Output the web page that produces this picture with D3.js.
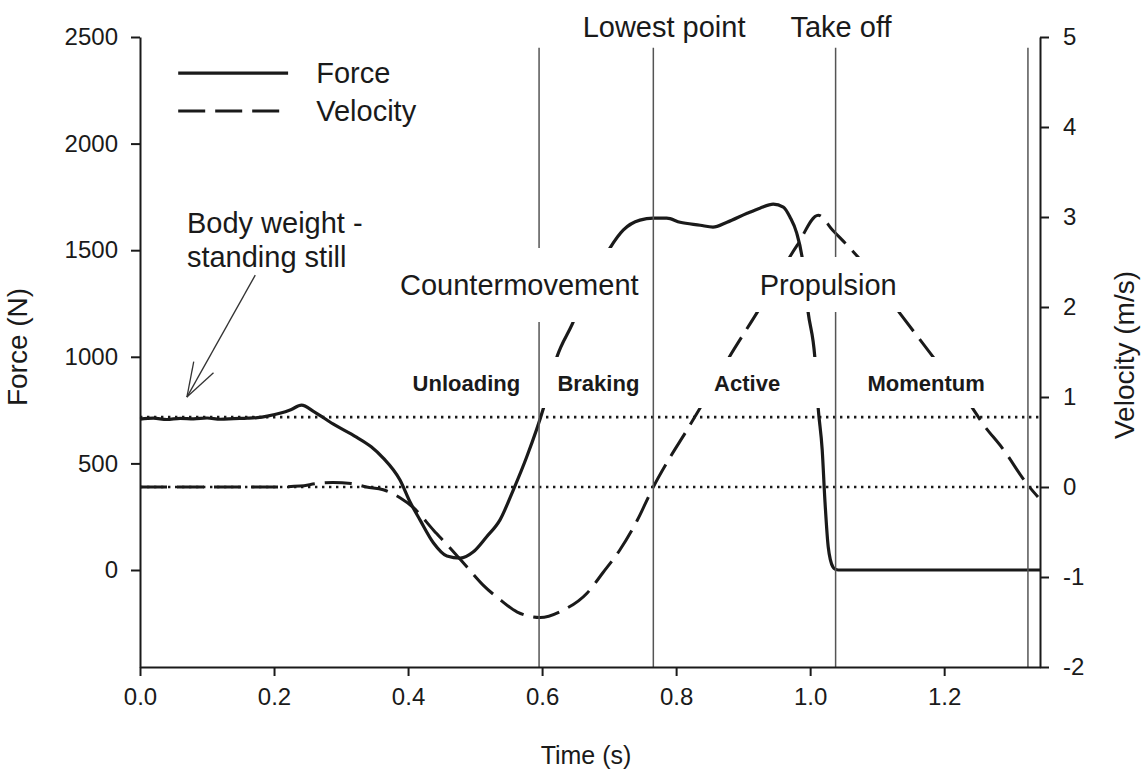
<!DOCTYPE html>
<html>
<head>
<meta charset="utf-8">
<script src="https://cdn.jsdelivr.net/npm/d3@7"></script>
<style>
  html, body { margin: 0; padding: 0; background: #fff; }
  svg { display: block; font-family: "Liberation Sans", Arial, sans-serif; }
</style>
</head>
<body>
<svg id="chart" width="1142" height="769"></svg>
<script>
// ---------------- DATA ----------------
const forceTime = [0, 0.02, 0.04, 0.06, 0.08, 0.10, 0.12, 0.14, 0.16, 0.175, 0.19, 0.21, 0.225, 0.241, 0.26, 0.288, 0.323, 0.345, 0.363, 0.388, 0.403, 0.418, 0.438, 0.458, 0.478, 0.497, 0.517, 0.537, 0.557, 0.577, 0.602, 0.622, 0.645, 0.665, 0.685, 0.701, 0.721, 0.746, 0.766, 0.786, 0.806, 0.836, 0.855, 0.876, 0.906, 0.925, 0.945, 0.96, 0.970, 0.980, 0.988, 0.997, 1.007, 1.012, 1.018, 1.022, 1.027, 1.034, 1.038, 1.042, 1.343];
const forceN    = [708, 712, 706, 711, 709, 713, 707, 710, 712, 715, 722, 736, 752, 773, 742, 685, 623, 578, 525, 422, 319, 234, 127, 66, 56, 84, 155, 234, 375, 530, 759, 998, 1153, 1300, 1420, 1509, 1594, 1641, 1650, 1650, 1631, 1617, 1608, 1631, 1673, 1697, 1716, 1702, 1655, 1580, 1467, 1209, 998, 759, 563, 328, 108, 14, 3, 0, 0];

const velTime = [0, 0.05, 0.10, 0.15, 0.20, 0.239, 0.265, 0.288, 0.315, 0.338, 0.363, 0.388, 0.408, 0.438, 0.463, 0.488, 0.512, 0.537, 0.563, 0.597, 0.631, 0.667, 0.691, 0.716, 0.742, 0.766, 0.791, 0.816, 0.836, 0.879, 0.921, 0.981, 1.012, 1.034, 1.072, 1.134, 1.184, 1.242, 1.257, 1.287, 1.325, 1.340];
const velMs   = [0, 0, 0, 0, 0, 0.01, 0.04, 0.05, 0.04, 0.0, -0.03, -0.12, -0.23, -0.48, -0.68, -0.89, -1.09, -1.25, -1.39, -1.45, -1.37, -1.18, -0.95, -0.70, -0.37, 0.0, 0.33, 0.63, 0.88, 1.44, 1.94, 2.69, 3.02, 2.85, 2.55, 1.93, 1.44, 0.88, 0.71, 0.43, 0.02, -0.11];

const bodyWeightN = 717;       // dotted reference (force axis)
const zeroVelocity = 0;        // dotted reference (velocity axis)

const eventTimes = [0.5955, 0.766, 1.038, 1.325];

const xTicks = [0, 0.2, 0.4, 0.6, 0.8, 1.0, 1.2];
const forceTicks = [0, 500, 1000, 1500, 2000, 2500];
const velTicks = [-2, -1, 0, 1, 2, 3, 4, 5];

const seriesNames = ["Force", "Velocity"];

const topLabels = [
  { text: "Lowest point", t: 0.782 },
  { text: "Take off", t: 1.046 }
];
const phaseLabels = [
  { text: "Countermovement", t: 0.566, box: [392, 646] },
  { text: "Propulsion", t: 1.027, box: [750, 906] }
];
const subPhaseLabels = [
  { text: "Unloading", t: 0.487 },
  { text: "Braking", t: 0.684 },
  { text: "Active", t: 0.906 },
  { text: "Momentum", t: 1.173 }
];
const bodyWeightNote = ["Body weight -", "standing still"];

// ---------------- SCALES ----------------
const svg = d3.select("#chart");
const x = d3.scaleLinear().domain([0, 1.343]).range([140, 1040]);
const yF = d3.scaleLinear().domain([-455, 2500]).range([667, 37]);
const yV = d3.scaleLinear().domain([-2, 5]).range([667, 37]);

const ink = "#1a1a1a";

// ---------------- DOTTED REFERENCE LINES ----------------
svg.append("line")
  .attr("x1", x(0)).attr("x2", x(1.343))
  .attr("y1", yF(bodyWeightN)).attr("y2", yF(bodyWeightN))
  .attr("stroke", ink).attr("stroke-width", 2.6)
  .attr("stroke-dasharray", "2.4,4.6");
svg.append("line")
  .attr("x1", x(0)).attr("x2", x(1.343))
  .attr("y1", yV(zeroVelocity)).attr("y2", yV(zeroVelocity))
  .attr("stroke", ink).attr("stroke-width", 2.6)
  .attr("stroke-dasharray", "2.4,4.6");

// ---------------- CURVES ----------------
const forceData = forceTime.map((t, i) => [t, forceN[i]]);
const velData = velTime.map((t, i) => [t, velMs[i]]);

svg.append("path")
  .datum(velData)
  .attr("fill", "none").attr("stroke", ink).attr("stroke-width", 3)
  .attr("stroke-dasharray", "27,10")
  .attr("d", d3.line().x(d => x(d[0])).y(d => yV(d[1])).curve(d3.curveMonotoneX));

svg.append("path")
  .datum(forceData)
  .attr("fill", "none").attr("stroke", ink).attr("stroke-width", 3.2)
  .attr("stroke-linejoin", "round")
  .attr("d", d3.line().x(d => x(d[0])).y(d => yF(d[1])).curve(d3.curveMonotoneX));

// ---------------- SUB-PHASE LABELS (bold, white boxes) ----------------
const subBaseline = 391;
subPhaseLabels.forEach(l => {
  const g = svg.append("g");
  const rect = g.append("rect").attr("fill", "#fff");
  const txt = g.append("text")
    .attr("x", x(l.t)).attr("y", subBaseline)
    .attr("text-anchor", "middle")
    .attr("font-size", 22).attr("font-weight", "bold").attr("fill", ink)
    .text(l.text);
  const bb = txt.node().getBBox();
  rect.attr("x", bb.x - 24).attr("width", bb.width + 70)
      .attr("y", subBaseline - 34).attr("height", 51);
});

// ---------------- EVENT LINES ----------------
eventTimes.forEach(t => {
  svg.append("line")
    .attr("x1", x(t)).attr("x2", x(t))
    .attr("y1", yF(2450)).attr("y2", yF(-455))
    .attr("stroke", "#555").attr("stroke-width", 1.5);
});

// ---------------- PHASE LABELS ----------------
const phaseBaseline = 295;
phaseLabels.forEach((l, i) => {
  const top = i === 0 ? 248 : 257;
  const bottom = i === 0 ? 322 : 312;
  svg.append("rect")
    .attr("x", l.box[0]).attr("width", l.box[1] - l.box[0])
    .attr("y", top).attr("height", bottom - top)
    .attr("fill", "#fff");
  svg.append("text")
    .attr("x", x(l.t)).attr("y", phaseBaseline)
    .attr("text-anchor", "middle")
    .attr("font-size", 29).attr("fill", ink)
    .text(l.text);
});

topLabels.forEach(l => {
  svg.append("text")
    .attr("x", x(l.t)).attr("y", 37)
    .attr("text-anchor", "middle")
    .attr("font-size", 29).attr("fill", ink)
    .text(l.text);
});

// ---------------- BODY WEIGHT NOTE + ARROW ----------------
svg.append("text").attr("x", x(0.07)).attr("y", 233)
  .attr("font-size", 29).attr("fill", ink).text(bodyWeightNote[0]);
svg.append("text").attr("x", x(0.07)).attr("y", 267)
  .attr("font-size", 29).attr("fill", ink).text(bodyWeightNote[1]);

const aStart = [x(0.172), yF(1383)];
const aTip = [x(0.070), yF(811)];
svg.append("line")
  .attr("x1", aStart[0]).attr("y1", aStart[1])
  .attr("x2", aTip[0]).attr("y2", aTip[1])
  .attr("stroke", "#333").attr("stroke-width", 1.3);
(function () {
  const ang = Math.atan2(aStart[1] - aTip[1], aStart[0] - aTip[0]);
  const len = 36, spread = 0.32;
  [ang - spread, ang + spread].forEach(a => {
    svg.append("line")
      .attr("x1", aTip[0]).attr("y1", aTip[1])
      .attr("x2", aTip[0] + len * Math.cos(a)).attr("y2", aTip[1] + len * Math.sin(a))
      .attr("stroke", "#333").attr("stroke-width", 1.3);
  });
})();

// ---------------- LEGEND ----------------
const legY = [yF(2331), yF(2153)];
svg.append("line")
  .attr("x1", x(0.057)).attr("x2", x(0.221))
  .attr("y1", legY[0]).attr("y2", legY[0])
  .attr("stroke", ink).attr("stroke-width", 3.2);
svg.append("line")
  .attr("x1", x(0.057)).attr("x2", x(0.221))
  .attr("y1", legY[1]).attr("y2", legY[1])
  .attr("stroke", ink).attr("stroke-width", 3.2)
  .attr("stroke-dasharray", "27,10");
seriesNames.forEach((n, i) => {
  svg.append("text")
    .attr("x", x(0.263)).attr("y", legY[i] + 10)
    .attr("font-size", 29).attr("fill", ink).text(n);
});

// ---------------- AXES ----------------
function styleAxis(g) {
  g.select(".domain").attr("stroke", ink).attr("stroke-width", 2);
  g.selectAll(".tick line").attr("stroke", ink).attr("stroke-width", 2);
  g.selectAll(".tick text").attr("fill", ink).attr("font-size", 24)
    .attr("font-family", "'Liberation Sans', Arial, sans-serif");
}
const intFmt = d => (d < 0 ? "-" : "") + Math.abs(d);

svg.append("g")
  .attr("transform", `translate(0,${yF(-455)})`)
  .call(d3.axisBottom(x).tickValues(xTicks).tickFormat(d3.format(".1f"))
        .tickSize(9).tickSizeOuter(0).tickPadding(12))
  .call(styleAxis);

svg.append("g")
  .attr("transform", `translate(${x(0)},0)`)
  .call(d3.axisLeft(yF).tickValues(forceTicks).tickFormat(intFmt)
        .tickSize(9).tickSizeOuter(0).tickPadding(13))
  .call(styleAxis);

svg.append("g")
  .attr("transform", `translate(${x(1.343)},0)`)
  .call(d3.axisRight(yV).tickValues(velTicks).tickFormat(intFmt)
        .tickSize(9).tickSizeOuter(0).tickPadding(14))
  .call(styleAxis);

// axis titles
svg.append("text")
  .attr("x", 586).attr("y", 764)
  .attr("text-anchor", "middle").attr("font-size", 25).attr("fill", ink)
  .text("Time (s)");
svg.append("text")
  .attr("transform", `translate(27,347) rotate(-90)`)
  .attr("text-anchor", "middle").attr("font-size", 28).attr("fill", ink)
  .text("Force (N)");
svg.append("text")
  .attr("transform", `translate(1134,355) rotate(-90)`)
  .attr("text-anchor", "middle").attr("font-size", 28).attr("fill", ink)
  .text("Velocity (m/s)");
</script>
</body>
</html>
